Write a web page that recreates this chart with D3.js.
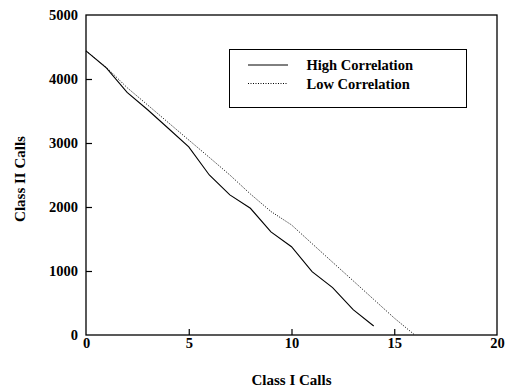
<!DOCTYPE html>
<html><head><meta charset="utf-8">
<script src="https://cdn.jsdelivr.net/npm/d3@7"></script>
<style>body{margin:0;background:#fff}svg{display:block}text{font-family:"Liberation Serif","Times New Roman",serif;font-weight:bold;fill:#000}</style>
</head><body><svg id="c" width="505" height="387"></svg>
<script>
const xHigh = [0,1,2,3,4,5,6,7,8,9,10,11,12,13,14];
const yHigh = [4440,4170,3790,3520,3230,2940,2500,2190,1980,1610,1380,990,740,395,140];
const xLow = [0,1,2,3,4,5,6,7,8,9,10,11,12,13,14,15,16];
const yLow = [4440,4180,3865,3594,3320,3047,2775,2500,2203,1930,1720,1428,1137,847,556,265,0];
const xTicks = [0,5,10,15,20];
const yTicks = [0,1000,2000,3000,4000,5000];
const seriesNames = ["High Correlation","Low Correlation"];

const svg = d3.select("#c");
const L=86,R=497,T=15,B=335;
const x = d3.scaleLinear().domain([0,20]).range([L,R]);
const y = d3.scaleLinear().domain([0,5000]).range([B,T]);

svg.append("rect").attr("x",L).attr("y",T).attr("width",R-L).attr("height",B-T)
  .attr("fill","none").attr("stroke","#000").attr("stroke-width",1.3);

const xa = svg.append("g").attr("transform",`translate(0,${B})`)
  .call(d3.axisBottom(x).tickValues(xTicks).tickSize(-6).tickPadding(3).tickFormat(d3.format("d")));
xa.select(".domain").remove();
xa.selectAll("line").attr("stroke","#000").attr("stroke-width",1.2);
xa.selectAll(".tick").filter(d=>d===0||d===20).select("line").remove();
xa.selectAll("text").attr("font-size",14.5).attr("font-family","Liberation Serif, serif").attr("font-weight","bold");

const ya = svg.append("g").attr("transform",`translate(${L},0)`)
  .call(d3.axisLeft(y).tickValues(yTicks).tickSize(-6).tickPadding(8).tickFormat(d3.format("d")));
ya.select(".domain").remove();
ya.selectAll("line").attr("stroke","#000").attr("stroke-width",1.2);
ya.selectAll(".tick").filter(d=>d===0||d===5000).select("line").remove();
ya.selectAll("text").attr("font-size",14.5).attr("font-family","Liberation Serif, serif").attr("font-weight","bold");

svg.append("text").attr("x",(L+R)/2).attr("y",385).attr("text-anchor","middle").attr("font-size",15).text("Class I Calls");
svg.append("text").attr("transform",`translate(24.5,${(T+B)/2+4}) rotate(-90)`).attr("text-anchor","middle").attr("font-size",15).text("Class II Calls");

const line = d3.line().x(d=>x(d[0])).y(d=>y(d[1]));
svg.append("path").datum(xHigh.map((v,i)=>[v,yHigh[i]])).attr("d",line)
  .attr("fill","none").attr("stroke","#000").attr("stroke-width",1.1);
svg.append("path").datum(xLow.map((v,i)=>[v,yLow[i]])).attr("d",line)
  .attr("fill","none").attr("stroke","#000").attr("stroke-width",1).attr("stroke-dasharray","1,1.5");

const lg = svg.append("g");
lg.append("rect").attr("x",229.5).attr("y",49.5).attr("width",237).attr("height",58)
  .attr("fill","#fff").attr("stroke","#000").attr("stroke-width",1);
const ly=[65,83.5];
seriesNames.forEach((n,i)=>{
  lg.append("line").attr("x1",248).attr("x2",288).attr("y1",ly[i]).attr("y2",ly[i])
    .attr("stroke","#000").attr("stroke-width",1).attr("stroke-dasharray",i?"1,1.5":null);
  lg.append("text").attr("x",306.5).attr("y",ly[i]+5).attr("font-size",14.5).text(n);
});
</script></body></html>
